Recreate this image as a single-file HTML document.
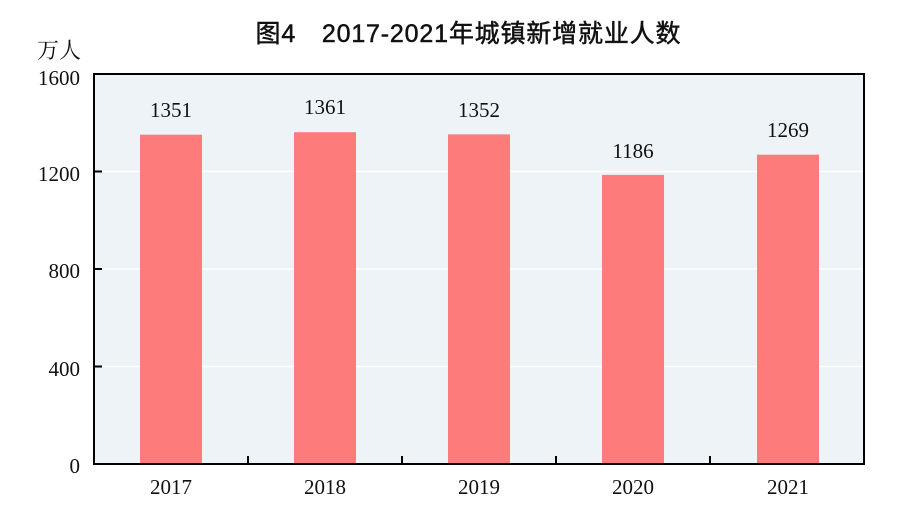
<!DOCTYPE html>
<html><head><meta charset="utf-8"><style>
body{margin:0;background:#fff;width:900px;height:517px;overflow:hidden}
</style></head><body>
<svg width="900" height="517" xmlns="http://www.w3.org/2000/svg">
<text x="468" y="42" text-anchor="middle" font-family="Liberation Sans, Noto Sans CJK SC, sans-serif" font-size="25" fill="#111" stroke="#111" stroke-width="0.5" textLength="425">图4　2017-2021年城镇新增就业人数</text>
<rect x="94" y="74" width="770" height="390" fill="#edf3f7"/>
<g stroke="#fff" stroke-width="1.5">
<line x1="94" x2="864" y1="171.5" y2="171.5"/>
<line x1="94" x2="864" y1="269" y2="269"/>
<line x1="94" x2="864" y1="366.5" y2="366.5"/>
</g>
<g fill="#fe7b7c">
<rect x="140" y="134.7" width="62" height="329.3"/>
<rect x="294" y="132.2" width="62" height="331.8"/>
<rect x="448" y="134.4" width="62" height="329.6"/>
<rect x="602" y="174.9" width="62" height="289.1"/>
<rect x="757" y="154.7" width="62" height="309.3"/>
</g>
<rect x="94" y="74" width="770" height="390" fill="none" stroke="#000" stroke-width="2"/>
<g stroke="#000" stroke-width="2">
<line x1="94" x2="102" y1="171.5" y2="171.5"/>
<line x1="94" x2="102" y1="269" y2="269"/>
<line x1="94" x2="102" y1="366.5" y2="366.5"/>
<line x1="248" x2="248" y1="456" y2="464"/>
<line x1="402" x2="402" y1="456" y2="464"/>
<line x1="556" x2="556" y1="456" y2="464"/>
<line x1="710" x2="710" y1="456" y2="464"/>
</g>
<g font-family="Liberation Serif, serif" font-size="21" fill="#111">
<text x="80" y="85" text-anchor="end">1600</text>
<text x="80" y="181" text-anchor="end">1200</text>
<text x="80" y="278" text-anchor="end">800</text>
<text x="80" y="376" text-anchor="end">400</text>
<text x="80" y="473" text-anchor="end">0</text>
<g text-anchor="middle">
<text x="171" y="494">2017</text><text x="325" y="494">2018</text><text x="479" y="494">2019</text><text x="633" y="494">2020</text><text x="788" y="494">2021</text>
<text x="171" y="117">1351</text><text x="325" y="114">1361</text><text x="479" y="117">1352</text><text x="633" y="158">1186</text><text x="788" y="137">1269</text>
</g>
</g>
<text x="37" y="58" font-family="Noto Serif CJK SC, serif" font-size="22" fill="#111">万人</text>
</svg>
</body></html>
